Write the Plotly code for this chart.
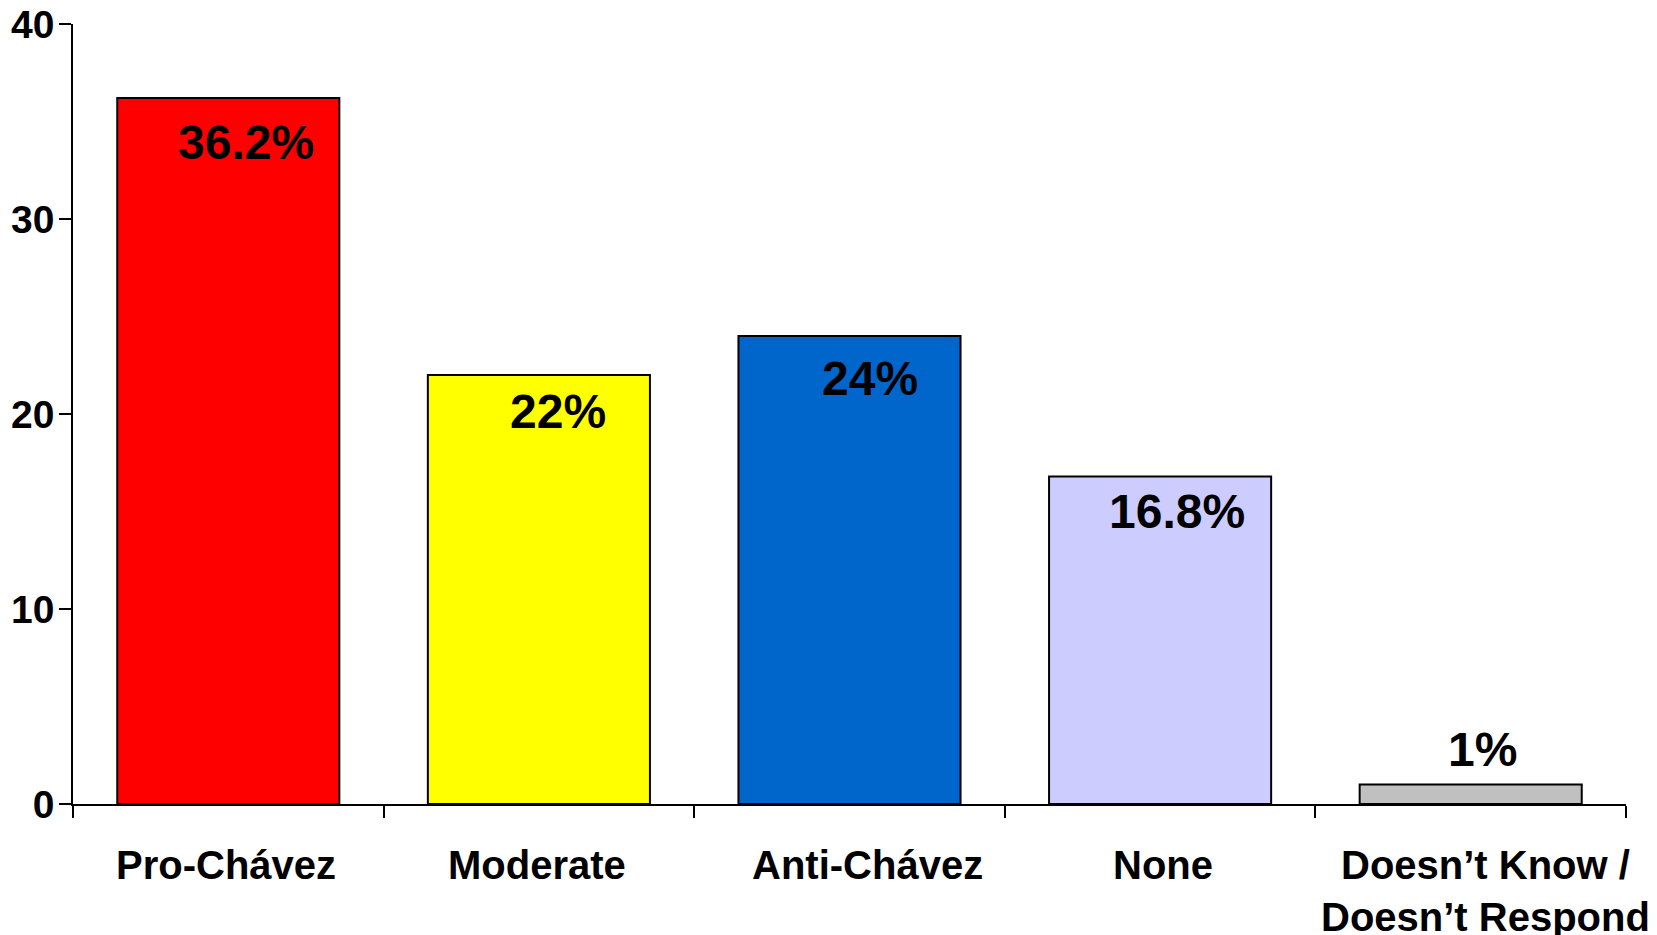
import plotly.graph_objects as go

categories = ["Pro-Chávez", "Moderate", "Anti-Chávez", "None", "Doesn’t Know /<br>Doesn’t Respond"]
values = [36.2, 22, 24, 16.8, 1]
value_labels = ["36.2%", "22%", "24%", "16.8%", "1%"]
y_ticks = [0, 10, 20, 30, 40]

bar_colors = ["#FF0000", "#FFFF00", "#0066CC", "#CCCCFF", "#C0C0C0"]
label_xshift = [18, 19, 20, 17, 12]
label_yshift = [-44, -36, -42, -35, 35]
cat_xshift = [-2, -2, 18, 3, 15]

FONT = "Liberation Sans, Arial, sans-serif"

fig = go.Figure()
fig.add_trace(go.Bar(
    x=categories, y=values,
    marker=dict(color=bar_colors, line=dict(color="#000000", width=2)),
    width=0.715,
    hoverinfo="skip",
))

for i, (c, v, t) in enumerate(zip(categories, values, value_labels)):
    fig.add_annotation(
        x=c, y=v, xref="x", yref="y", text=t, showarrow=False,
        xanchor="center", yanchor="middle",
        xshift=label_xshift[i], yshift=label_yshift[i],
        font=dict(family=FONT, size=48, color="#000000", weight="bold"),
    )
    fig.add_annotation(
        x=c, y=0, xref="x", yref="y", text=c, showarrow=False,
        xanchor="center", yanchor="top",
        xshift=cat_xshift[i], yshift=-37,
        font=dict(family=FONT, size=40, color="#000000", weight="bold"),
    )

fig.update_layout(
    width=1657, height=935,
    margin=dict(l=73, r=31, t=24, b=131, autoexpand=False),
    paper_bgcolor="#FFFFFF", plot_bgcolor="#FFFFFF",
    showlegend=False,
    font=dict(family=FONT, color="#000000"),
)
fig.update_xaxes(
    type="category", automargin=False,
    showgrid=False, zeroline=False,
    showline=True, linecolor="#000000", linewidth=1.5,
    ticks="outside", tickson="boundaries", ticklen=12, tickwidth=1.5, tickcolor="#000000",
    showticklabels=False,
    range=[-0.5, 4.5],
)
fig.update_yaxes(
    range=[0, 40], tickvals=y_ticks, ticktext=[str(t) for t in y_ticks],
    automargin=False,
    showgrid=False, zeroline=False,
    showline=True, linecolor="#000000", linewidth=1.5,
    ticks="outside", ticklen=12, tickwidth=1.5, tickcolor="#000000",
    ticklabelstandoff=-3,
    tickfont=dict(family=FONT, size=39, color="#000000", weight="bold"),
)

fig.write_html(
    "out.html",
    config={"displayModeBar": False},
    post_script="document.body.style.margin='0';document.body.style.overflow='hidden';",
)
